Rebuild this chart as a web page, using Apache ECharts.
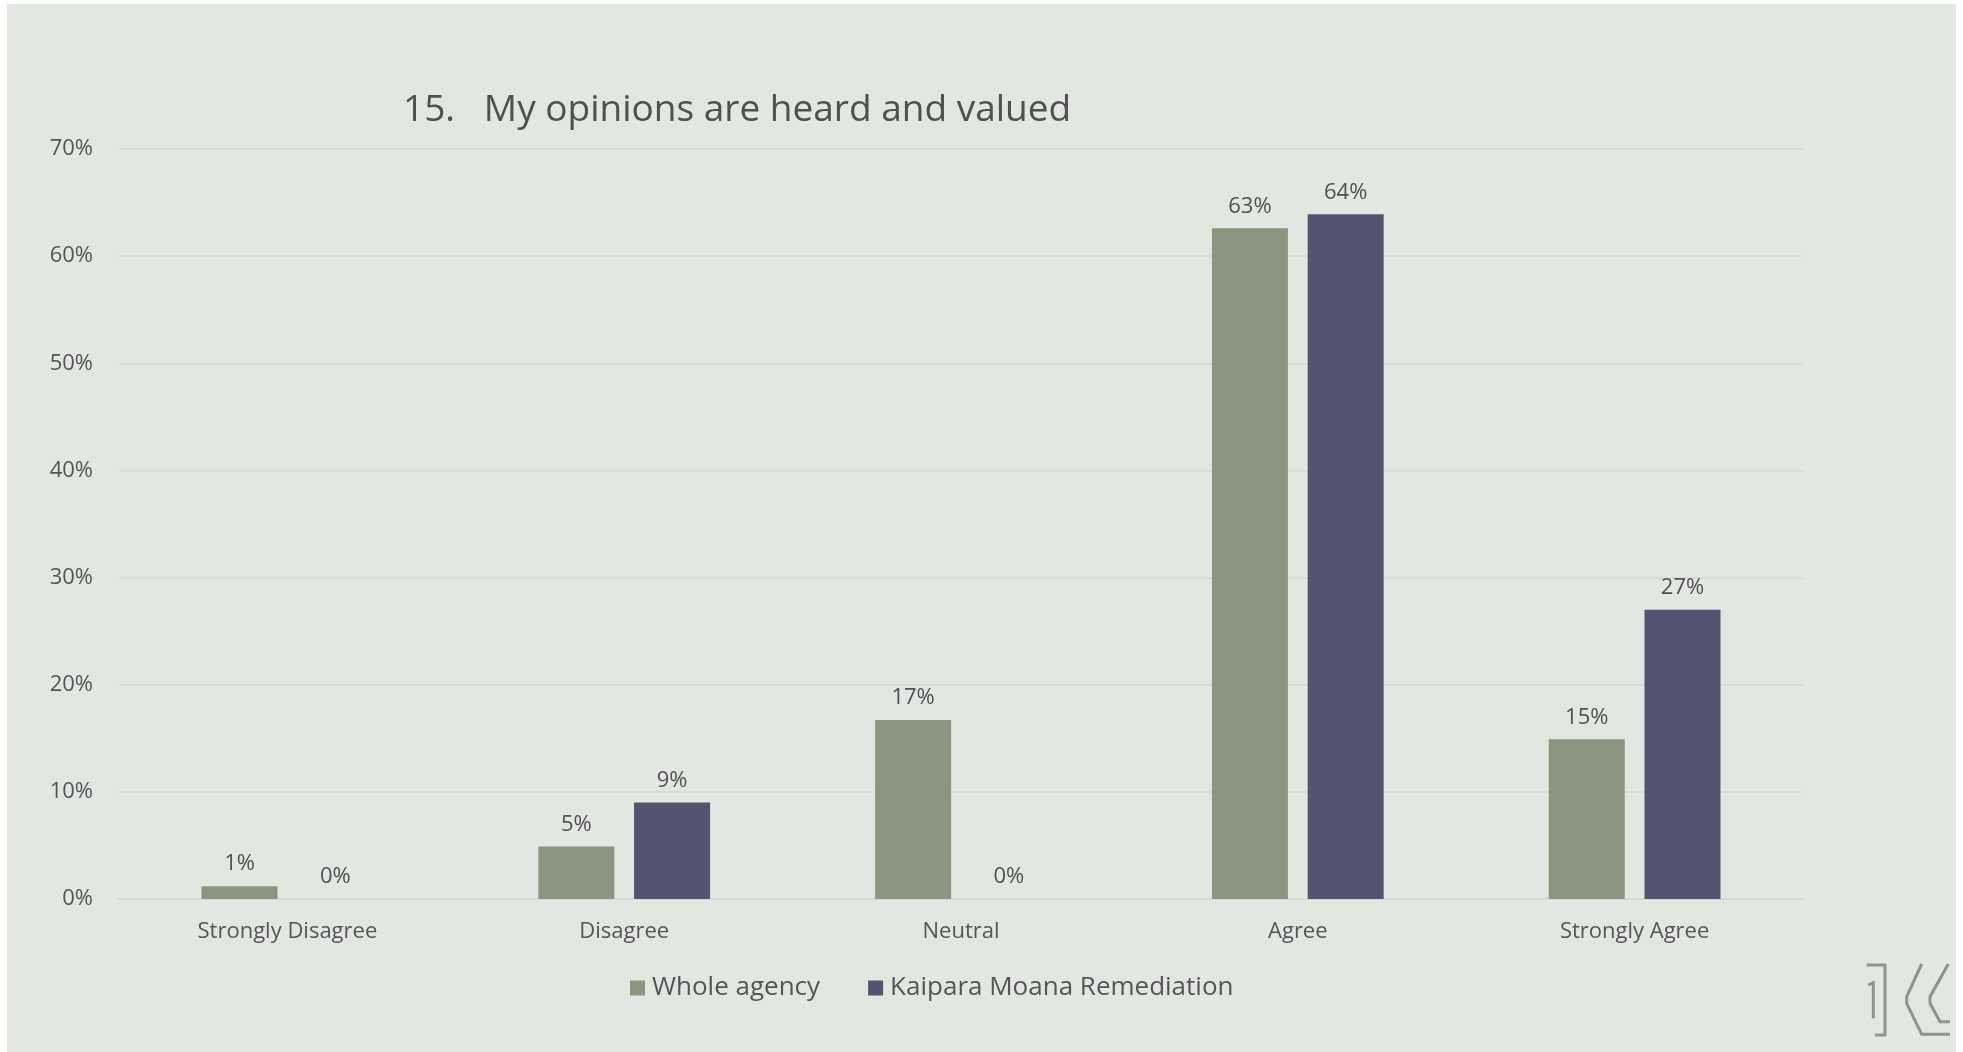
<!DOCTYPE html>
<html>
<head>
<meta charset="utf-8">
<script src="https://cdn.jsdelivr.net/npm/echarts@6/dist/echarts.min.js"></script>
<style>
html,body{margin:0;padding:0;background:#ffffff;width:1963px;height:1052px;overflow:hidden;}
#chart{position:absolute;left:7px;top:4px;width:1949px;height:1048px;}
</style>
</head>
<body>
<div id="chart"></div>
<script>
const categories = ['Strongly Disagree', 'Disagree', 'Neutral', 'Agree', 'Strongly Agree'];
const wholeAgency = [1.2, 4.9, 16.7, 62.6, 14.9];
const kaiparaMoana = [0, 9.0, 0, 63.9, 27.0];
const seriesNames = ['Whole agency', 'Kaipara Moana Remediation'];
const yTicks = [0, 10, 20, 30, 40, 50, 60, 70];

const FONT = 'Open Sans';
const chart = echarts.init(document.getElementById('chart'), null, {renderer: 'canvas'});

function lg(points) {
  return {
    type: 'polyline',
    shape: {points: points.map(p => [p[0] - 7, p[1] - 4])},
    style: {stroke: '#8d9589', lineWidth: 3, fill: null}
  };
}

chart.setOption({
  backgroundColor: '#e2e7e2',
  animation: false,
  textStyle: {fontFamily: FONT},
  title: {
    text: '15.   My opinions are heard and valued',
    left: 391,
    top: 83,
    textStyle: {fontFamily: FONT, fontSize: 37, fontWeight: 'normal', color: '#505050'}
  },
  legend: {
    data: seriesNames,
    left: 618,
    top: 966,
    itemWidth: 15,
    itemHeight: 15,
    itemGap: 48,
    icon: 'rect',
    textStyle: {fontFamily: FONT, fontSize: 26, color: '#555555', padding: [0, 0, 0, 2]}
  },
  grid: {left: 112, right: 153, top: 145, bottom: 153, containLabel: false},
  xAxis: {
    type: 'category',
    data: categories,
    axisLine: {show: true, lineStyle: {color: '#d5dad5', width: 2}},
    axisTick: {show: false},
    axisLabel: {fontFamily: FONT, fontSize: 22, color: '#555555', margin: 22}
  },
  yAxis: {
    type: 'value',
    min: yTicks[0],
    max: yTicks[yTicks.length - 1],
    interval: 10,
    axisLine: {show: false},
    axisTick: {show: false},
    splitLine: {lineStyle: {color: '#d8ddd8', width: 2}},
    axisLabel: {fontFamily: FONT, fontSize: 22, color: '#555555', margin: 26, formatter: v => v + '%'}
  },
  series: [
    {
      name: seriesNames[0],
      type: 'bar',
      data: wholeAgency,
      barWidth: 76,
      barGap: '26%',
      itemStyle: {color: '#8a9680'},
      label: {show: true, position: 'top', distance: 11, fontFamily: FONT, fontSize: 22, color: '#505050',
        formatter: p => Math.round(p.value) + '%'}
    },
    {
      name: seriesNames[1],
      type: 'bar',
      data: kaiparaMoana,
      barWidth: 76,
      barGap: '26%',
      itemStyle: {color: '#555470'},
      label: {show: true, position: 'top', distance: 11, fontFamily: FONT, fontSize: 22, color: '#505050',
        formatter: p => Math.round(p.value) + '%'}
    }
  ],
  graphic: [
    lg([[1866.7,965],[1885,965],[1885,1035],[1875,1035]]),
    lg([[1868.3,985],[1873.3,982.7],[1873.3,1018.3]]),
    lg([[1921.7,964],[1906.7,996.7],[1906.7,1003.3],[1921.7,1034.3],[1950,1034.3]]),
    lg([[1948.3,964],[1930,996.7],[1930,1003.3],[1940,1021.7],[1950,1021.7]])
  ]
});
</script>
</body>
</html>
